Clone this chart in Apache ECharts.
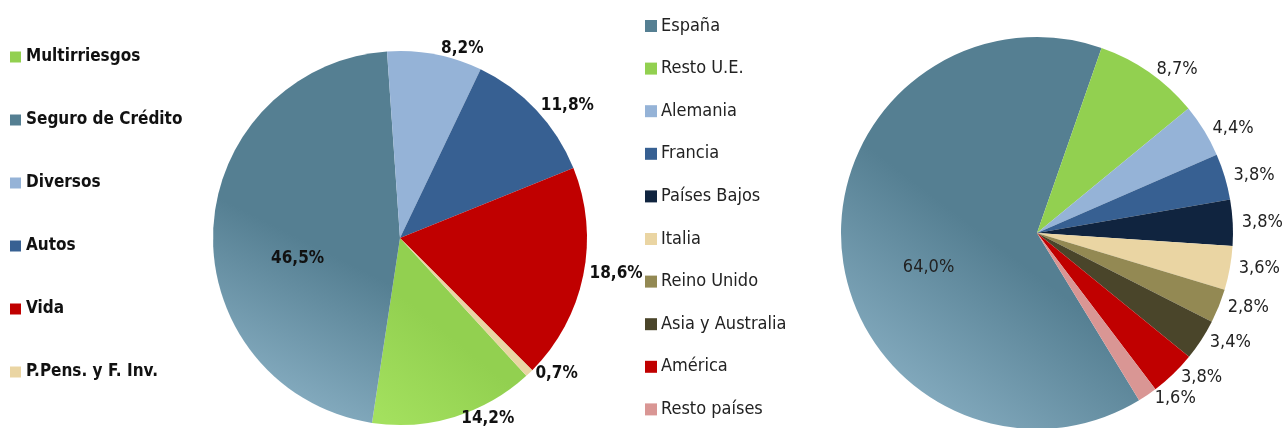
<!DOCTYPE html>
<html>
<head>
<meta charset="utf-8">
<script src="https://cdn.jsdelivr.net/npm/echarts@6/dist/echarts.min.js"></script>
<style>
  html, body { margin: 0; padding: 0; background: #fff; }
  #chart { width: 1283px; height: 428px; }
</style>
</head>
<body>
<div id="chart"></div>
<script>
// ramos (pie izquierda)
const ramos = ['Multirriesgos', 'Seguro de Crédito', 'Diversos', 'Autos', 'Vida', 'P.Pens. y F. Inv.']
const ramosValores = [14.2, 46.5, 8.2, 11.8, 18.6, 0.7]
const ramosColores = ['#92D050', '#557F92', '#95B3D7', '#376092', '#C00000', '#EAD5A3']

// paises (pie derecha)
const paises = ['España', 'Resto U.E.', 'Alemania', 'Francia', 'Países Bajos', 'Italia',
  'Reino Unido', 'Asia y Australia', 'América', 'Resto países']
const paisesValores = [64.0, 8.7, 4.4, 3.8, 3.8, 3.6, 2.8, 3.4, 3.8, 1.6]
const paisesColores = ['#557F92', '#92D050', '#95B3D7', '#376092', '#10243F', '#EAD5A3',
  '#938953', '#4A452A', '#C00000', '#D99694']

const fuente = "'Liberation Sans Narrow', 'Arial Narrow', 'DejaVu Sans Condensed', sans-serif"

// degradado del sector grande
function degradado (base, claro) {
  return {
    type: 'linear', x: 0.85, y: 0.15, x2: 0.05, y2: 0.95,
    colorStops: [{ offset: 0, color: base }, { offset: 0.45, color: base }, { offset: 1, color: claro }]
  }
}

const fmt = p => p.value.toFixed(1).replace('.', ',') + '%'

const datosRamos = ramos.map((n, i) => {
  const d = { name: n, value: ramosValores[i], itemStyle: { color: ramosColores[i] } }
  if (n === 'Seguro de Crédito') {
    d.itemStyle.color = degradado('#557F92', '#8FB5C9')
    d.label = { position: 'inside', offset: [-6, 24] }
  }
  if (n === 'Multirriesgos') d.itemStyle.color = degradado('#92D050', '#A3E05E')
  return d
})

const datosPaises = paises.map((n, i) => {
  const d = { name: n, value: paisesValores[i], itemStyle: { color: paisesColores[i] } }
  if (n === 'España') {
    d.itemStyle.color = degradado('#557F92', '#8FB5C9')
    d.label = { position: 'inside', offset: [-8, 24] }
  }
  return d
})

const myChart = echarts.init(document.getElementById('chart'))
myChart.setOption({
  animation: false,
  legend: [{
    orient: 'vertical',
    left: 10,
    top: 46,
    height: 380,
    padding: 0,
    itemWidth: 11,
    itemHeight: 11,
    itemGap: 41,
    icon: 'rect',
    data: ramos.map((n, i) => ({ name: n, itemStyle: { color: ramosColores[i] } })),
    textStyle: { fontFamily: fuente, fontSize: 17, fontWeight: 'bold', color: '#111', lineHeight: 22, padding: [0, 0, 0, 0] }
  }, {
    orient: 'vertical',
    left: 645,
    top: 15,
    height: 413,
    padding: 0,
    itemWidth: 12,
    itemHeight: 12,
    itemGap: 20.6,
    icon: 'rect',
    data: paises.map((n, i) => ({ name: n, itemStyle: { color: paisesColores[i] } })),
    textStyle: { fontFamily: fuente, fontSize: 18, color: '#222', lineHeight: 22, padding: [0, 0, 0, -1] }
  }],
  series: [{
    name: 'ramos',
    type: 'pie',
    center: [400, 238],
    radius: 187,
    startAngle: 312.5,
    clockwise: true,
    silent: true,
    itemStyle: { borderWidth: 0 },
    label: {
      show: true,
      position: 'outside',
      formatter: fmt,
      overflow: 'none',
      fontFamily: fuente,
      fontSize: 17,
      fontWeight: 'bold',
      color: '#111'
    },
    labelLine: { show: false, length: 6, length2: 0 },
    data: datosRamos
  }, {
    name: 'paises',
    type: 'pie',
    center: [1037, 233],
    radius: 196,
    startAngle: 301.4,
    clockwise: true,
    silent: true,
    itemStyle: { borderWidth: 0 },
    label: {
      show: true,
      position: 'outside',
      formatter: fmt,
      overflow: 'none',
      fontFamily: fuente,
      fontSize: 18,
      color: '#222'
    },
    labelLine: { show: false, length: 4, length2: 0 },
    data: datosPaises
  }]
})
</script>
</body>
</html>
